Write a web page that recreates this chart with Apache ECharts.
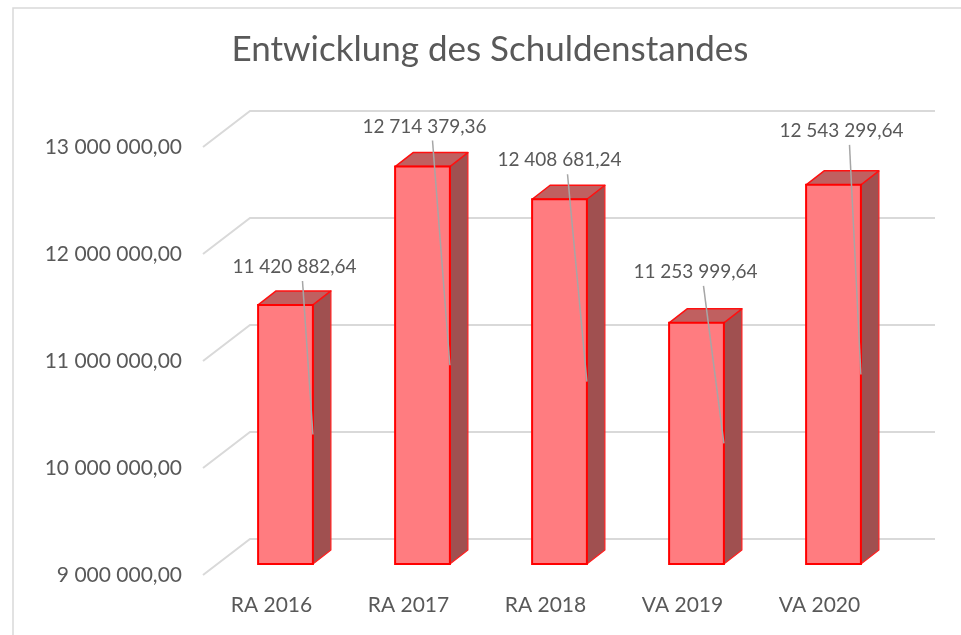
<!DOCTYPE html>
<html>
<head>
<meta charset="utf-8">
<script src="https://cdn.jsdelivr.net/npm/echarts@6/dist/echarts.min.js"></script>
<style>
  html, body { margin: 0; padding: 0; background: #fff; }
  #chart { width: 961px; height: 635px; }
</style>
</head>
<body>
<div id="chart"></div>
<script>
const categories = ['RA 2016', 'RA 2017', 'RA 2018', 'VA 2019', 'VA 2020']
const debtValues = [11420882.64, 12714379.36, 12408681.24, 11253999.64, 12543299.64]
const yTicks = [9000000, 10000000, 11000000, 12000000, 13000000]

// hand placement of the data labels (as in the original), px relative to bar top
const labelLift = [38, 40, 39, 51, 54]
const labelShift = [9, 2, 0, -1, 8]

const TEXT = '#595959'
const FONT = 'Lato'
const DEPTH = [47, -36]   // floor/back wall offset
const BAR_OFF = [14, -11] // bar front face sits a bit into the depth
const BAR_DEPTH = [18, -14]

function fmt(v) {
  var parts = v.toFixed(2).split('.')
  return parts[0].replace(/\B(?=(\d{3})+(?!\d))/g, ' ') + ',' + parts[1]
}

var chart = echarts.init(document.getElementById('chart'))

var option = {
  animation: false,
  textStyle: { fontFamily: FONT },
  title: {
    text: 'Entwicklung des Schuldenstandes',
    left: 490,
    top: 32,
    padding: 0,
    textAlign: 'center',
    textStyle: { color: TEXT, fontSize: 35, fontWeight: 'normal', fontFamily: FONT }
  },
  graphic: [{
    type: 'rect',
    shape: { x: 13, y: 8, width: 1000, height: 700 },
    style: { fill: 'none', stroke: '#d9d9d9', lineWidth: 1.5 },
    silent: true
  }],
  grid: { left: 203, right: 73, top: 147, bottom: 60 },
  xAxis: {
    type: 'category',
    data: categories,
    axisLine: { show: false },
    axisTick: { show: false },
    axisLabel: { color: TEXT, fontSize: 21, fontFamily: FONT, margin: 20 }
  },
  yAxis: {
    type: 'value',
    min: 9000000,
    max: 13000000,
    interval: 1000000,
    splitLine: { show: false },
    axisLine: { show: false },
    axisTick: { show: false },
    axisLabel: {
      color: TEXT, fontSize: 21, fontFamily: FONT, margin: 21,
      formatter: v => fmt(v)
    }
  },
  series: [
    {
      // perspective gridlines: diagonal on the floor side + line along back wall
      type: 'custom',
      silent: true,
      z: 1,
      data: yTicks.map(v => [0, v]),
      renderItem(params, api) {
        var cs = params.coordSys
        var y = api.coord([0, api.value(1)])[1]
        return {
          type: 'polyline',
          shape: { points: [
            [cs.x, y],
            [cs.x + DEPTH[0], y + DEPTH[1]],
            [cs.x + cs.width + DEPTH[0], y + DEPTH[1]]
          ] },
          style: { stroke: '#d9d9d9', lineWidth: 2, fill: null }
        }
      }
    },
    {
      type: 'custom',
      z: 2,
      data: debtValues.map((v, i) => [i, v]),
      renderItem(params, api) {
        var i = api.value(0)
        var v = api.value(1)
        var top = api.coord([i, v])
        var base = api.coord([i, 9000000])
        var half = api.size([1, 0])[0] * 0.2
        var x0 = top[0] - half + BAR_OFF[0]
        var x1 = top[0] + half + BAR_OFF[0]
        var yT = top[1] + BAR_OFF[1]
        var yB = base[1] + BAR_OFF[1]
        var dx = BAR_DEPTH[0], dy = BAR_DEPTH[1]
        var cx = (x0 + x1) / 2 + labelShift[i]
        var ly = yT - labelLift[i]
        return {
          type: 'group',
          children: [
            {
              type: 'polygon',
              shape: { points: [[x1, yB], [x1, yT], [x1 + dx, yT + dy], [x1 + dx, yB + dy]] },
              style: { fill: '#a05050', stroke: '#ff2020', lineWidth: 1.2, lineJoin: 'round' }
            },
            {
              type: 'polygon',
              shape: { points: [[x0, yT], [x1, yT], [x1 + dx, yT + dy], [x0 + dx, yT + dy]] },
              style: { fill: '#c06060', stroke: '#ff1010', lineWidth: 1.5, lineJoin: 'round' }
            },
            {
              type: 'rect',
              shape: { x: x0, y: yT, width: x1 - x0, height: yB - yT },
              style: { fill: '#ff7c80', stroke: '#ff0000', lineWidth: 2 }
            },
            {
              type: 'line',
              shape: { x1: cx + 8, y1: ly + 14, x2: x1, y2: (yT + yB) / 2 },
              style: { stroke: '#a6a6a6', lineWidth: 1.5 }
            },
            {
              type: 'text',
              style: {
                text: fmt(v), x: cx, y: ly,
                align: 'center', verticalAlign: 'middle',
                fill: TEXT, fontSize: 19, fontFamily: FONT
              }
            }
          ]
        }
      }
    }
  ]
}

chart.setOption(option)
</script>
</body>
</html>
